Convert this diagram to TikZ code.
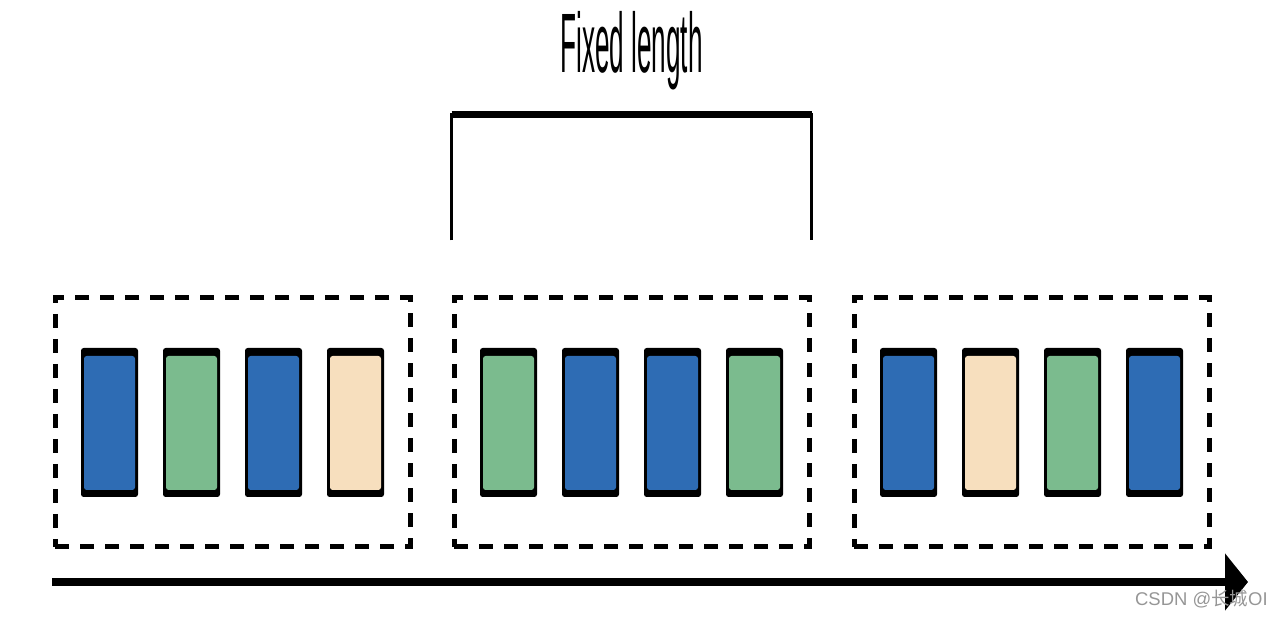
\documentclass[tikz,border=0pt]{standalone}
\usepackage{fontspec}
\setmainfont{Liberation Sans}
\newfontfamily\cjkfont{Noto Sans CJK SC}
\usepackage{tikz}
\usetikzlibrary{positioning, calc, arrows.meta}
\definecolor{tokblue}{RGB}{46,108,180}
\definecolor{tokgreen}{RGB}{123,187,142}
\definecolor{tokbeige}{RGB}{247,223,190}
\definecolor{markgray}{RGB}{150,150,150}
\tikzset{
  window/.style={
    draw, line width=0.1cm, dash pattern=on 0.28cm off 0.22cm,
    minimum width=7.1cm, minimum height=4.98cm, inner sep=0pt
  },
  % black frame, thick top and bottom bars, coloured body
  cell/.style={
    fill=black, rounded corners=1.5pt, inner sep=0pt,
    minimum width=1.14cm, minimum height=2.98cm,
    path picture={\fill[#1]
      ([shift={(0.06,-0.16)}]path picture bounding box.north west) rectangle
      ([shift={(-0.06,0.14)}]path picture bounding box.south east);}
  },
  bracket/.style={line width=2pt},
  timeline/.style={line width=0.17cm, -{Triangle[length=0.46cm, width=1.12cm]}},
}

\begin{document}
\begin{tikzpicture}
\useasboundingbox (0,0) rectangle (25.64,12.36);

%% ── three fixed-length windows ───────────────────────────────────
\node[window] (win1) at (4.65,3.91) {};
\node[window] (win2) at (12.63,3.91) {};
\node[window] (win3) at (20.63,3.91) {};

%% ── tokens inside each window ────────────────────────────────────
\foreach \w/\ca/\cb/\cc/\cd in {1/tokblue/tokgreen/tokblue/tokbeige,
                                2/tokgreen/tokblue/tokblue/tokgreen,
                                3/tokblue/tokbeige/tokgreen/tokblue}{
  \node[cell=\ca] (c\w a) at ([xshift=-2.46cm]win\w.center) {};
  \node[cell=\cb] (c\w b) at ([xshift=-0.82cm]win\w.center) {};
  \node[cell=\cc] (c\w c) at ([xshift=0.82cm]win\w.center) {};
  \node[cell=\cd] (c\w d) at ([xshift=2.46cm]win\w.center) {};
}

%% ── bracket over the middle window ───────────────────────────────
\coordinate (brl) at ([yshift=1.1cm]win2.north west);
\coordinate (brr) at ([yshift=1.1cm]win2.north east);
\draw[bracket] (brl) -- ++(0,2.52) coordinate (brtl) -- (brtl -| brr) coordinate (brtr) -- (brr);
\draw[line width=0.14cm] (brtl) -- (brtr);
\node[font=\fontsize{48pt}{50pt}\selectfont, xscale=0.31, anchor=base] (fixlen)
  at ([yshift=0.84cm]$(brtl)!0.5!(brtr)$) {Fixed length};

%% ── time axis ────────────────────────────────────────────────────
\coordinate (tstart) at (1.04,0.72);
\coordinate (tend) at (24.96,0.72);
\draw[timeline] (tstart) -- (tend);

\node[font=\fontsize{10.5pt}{12pt}\selectfont, text=markgray, anchor=east, inner sep=0pt] (mark)
  at (25.36,0.38) {CSDN @{\cjkfont 长城}OI};

\end{tikzpicture}
\end{document}
